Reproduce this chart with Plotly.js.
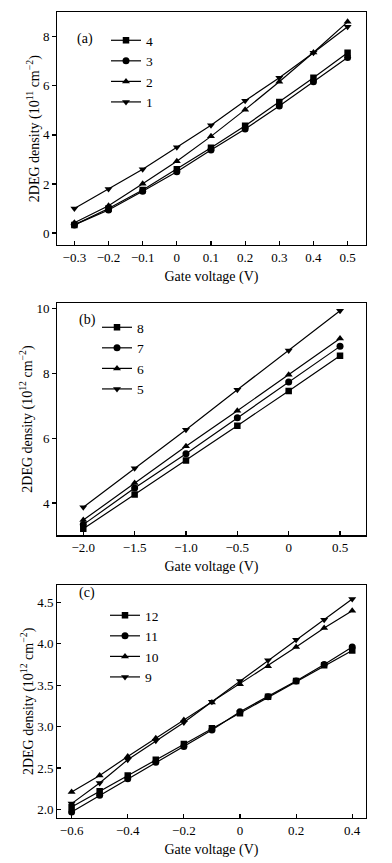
<!DOCTYPE html>
<html><head><meta charset="utf-8">
<script src="https://cdn.plot.ly/plotly-3.0.1.min.js"></script>
<style>html,body{margin:0;padding:0;background:#fff}#chart{width:392px;height:863px}</style>
</head><body><div id="chart"></div>
<script>
// Panel (a)
const xA = [-0.3,-0.2,-0.1,0,0.1,0.2,0.3,0.4,0.5];
const a1 = [1.00,1.79,2.60,3.50,4.39,5.39,6.33,7.35,8.41];
const a2 = [0.42,1.11,2.01,2.93,3.94,5.03,6.17,7.36,8.61];
const a3 = [0.33,0.94,1.70,2.50,3.38,4.24,5.18,6.17,7.16];
const a4 = [0.33,1.00,1.75,2.60,3.48,4.37,5.34,6.33,7.35];
const xTicksA = [-0.3,-0.2,-0.1,0,0.1,0.2,0.3,0.4,0.5];
const xLabelsA = ['\u22120.3','\u22120.2','\u22120.1','0','0.1','0.2','0.3','0.4','0.5'];
const yTicksA = [0,2,4,6,8];

// Panel (b)
const xB = [-2.0,-1.5,-1.0,-0.5,0,0.5];
const b5 = [3.87,5.07,6.26,7.50,8.71,9.94];
const b6 = [3.47,4.62,5.75,6.85,7.96,9.08];
const b7 = [3.33,4.46,5.52,6.63,7.74,8.84];
const b8 = [3.20,4.26,5.31,6.39,7.46,8.55];
const xTicksB = [-2.0,-1.5,-1.0,-0.5,0,0.5];
const xLabelsB = ['\u22122.0','\u22121.5','\u22121.0','\u22120.5','0','0.5'];
const yTicksB = [4,6,8,10];

// Panel (c)
const xC = [-0.6,-0.5,-0.4,-0.3,-0.2,-0.1,0,0.1,0.2,0.3,0.4];
const c9  = [2.07,2.32,2.60,2.83,3.05,3.30,3.55,3.80,4.05,4.29,4.54];
const c10 = [2.21,2.41,2.64,2.86,3.08,3.29,3.51,3.73,3.96,4.19,4.40];
const c11 = [1.97,2.17,2.37,2.57,2.76,2.96,3.18,3.36,3.55,3.75,3.96];
const c12 = [2.03,2.22,2.41,2.60,2.79,2.98,3.16,3.36,3.55,3.74,3.92];
const xTicksC = [-0.6,-0.4,-0.2,0,0.2,0.4];
const xLabelsC = ['\u22120.6','\u22120.4','\u22120.2','0','0.2','0.4'];
const yTicksC = [2.0,2.5,3.0,3.5,4.0,4.5];
const yLabelsC = ['2.0','2.5','3.0','3.5','4.0','4.5'];

const FONT = 'Liberation Serif, Times New Roman, serif';
function tr(x, y, name, sym, xa, ya, lg) {
  return {x: x, y: y, name: name, type: 'scatter', mode: 'lines+markers',
    xaxis: xa, yaxis: ya, legend: lg,
    line: {color: '#000', width: 1.2},
    marker: {symbol: sym, size: sym === 'square' ? 6.5 : 7, color: '#000'}};
}
const data = [
  tr(xA, a4, '4', 'square', 'x', 'y', 'legend'),
  tr(xA, a3, '3', 'circle', 'x', 'y', 'legend'),
  tr(xA, a2, '2', 'triangle-up', 'x', 'y', 'legend'),
  tr(xA, a1, '1', 'triangle-down', 'x', 'y', 'legend'),
  tr(xB, b8, '8', 'square', 'x2', 'y2', 'legend2'),
  tr(xB, b7, '7', 'circle', 'x2', 'y2', 'legend2'),
  tr(xB, b6, '6', 'triangle-up', 'x2', 'y2', 'legend2'),
  tr(xB, b5, '5', 'triangle-down', 'x2', 'y2', 'legend2'),
  tr(xC, c12, '12', 'square', 'x3', 'y3', 'legend3'),
  tr(xC, c11, '11', 'circle', 'x3', 'y3', 'legend3'),
  tr(xC, c10, '10', 'triangle-up', 'x3', 'y3', 'legend3'),
  tr(xC, c9, '9', 'triangle-down', 'x3', 'y3', 'legend3')
];
const W = 392, H = 863;
const px = v => v / W, py = v => 1 - v / H;
function xax(range, tv, tt, anchor, title) {
  return {domain: [px(57.3), px(365.7)], range: range, anchor: anchor,
    tickmode: 'array', tickvals: tv, ticktext: tt, ticks: 'inside', ticklen: 4,
    tickwidth: 1.2, tickcolor: '#000', showline: true, mirror: true, linecolor: '#000', linewidth: 1.2,
    showgrid: false, zeroline: false, tickfont: {family: FONT, size: 13, color: '#000'},
    title: {text: title, font: {family: FONT, size: 14, color: '#000'}, standoff: 7}};
}
function yax(range, dom, tv, tt, anchor, title, ticks) {
  return {domain: dom, range: range, anchor: anchor,
    tickmode: 'array', tickvals: tv, ticktext: tt, ticks: ticks, ticklen: 4,
    tickwidth: 1.2, tickcolor: '#000', showline: true, mirror: true, linecolor: '#000', linewidth: 1.2,
    showgrid: false, zeroline: false, tickfont: {family: FONT, size: 13, color: '#000'},
    title: {text: title, font: {family: FONT, size: 14, color: '#000'}, standoff: 0}};
}
function lg(xp, ytop) {
  return {x: px(xp), y: py(ytop), xanchor: 'left', yanchor: 'top', bgcolor: 'rgba(0,0,0,0)',
    font: {family: FONT, size: 13.5, color: '#000'}, tracegroupgap: 0, itemwidth: 30};
}
const layout = {
  width: W, height: H, margin: {l: 0, r: 0, t: 0, b: 0},
  paper_bgcolor: '#fff', plot_bgcolor: '#fff', showlegend: true,
  xaxis: xax([-0.35, 0.553], xTicksA, xLabelsA, 'y', 'Gate voltage (V)'),
  yaxis: yax([-0.49, 9.0], [py(245), py(12.3)], yTicksA, yTicksA.map(String), 'x', '2DEG density (10<sup>11</sup> cm<sup>\u22122</sup>)', 'outside'),
  xaxis2: xax([-2.253, 0.75], xTicksB, xLabelsB, 'y2', 'Gate voltage (V)'),
  yaxis2: yax([3.0, 10.19], [py(535.3), py(302.7)], yTicksB, yTicksB.map(String), 'x2', '2DEG density (10<sup>12</sup> cm<sup>\u22122</sup>)', 'outside'),
  xaxis3: xax([-0.651, 0.448], xTicksC, xLabelsC, 'y3', 'Gate voltage (V)'),
  yaxis3: yax([1.90, 4.71], [py(817.7), py(585)], yTicksC, yLabelsC, 'x3', '2DEG density (10<sup>12</sup> cm<sup>\u22122</sup>)', 'inside'),
  legend: lg(106, 25),
  legend2: lg(97, 312),
  legend3: lg(105, 600),
  annotations: [
    {text: '(a)', x: px(75), y: py(29), xref: 'paper', yref: 'paper', showarrow: false, font: {family: FONT, size: 14, color: '#000'}},
    {text: '(b)', x: px(77), y: py(320), xref: 'paper', yref: 'paper', showarrow: false, font: {family: FONT, size: 14, color: '#000'}},
    {text: '(c)', x: px(77), y: py(603), xref: 'paper', yref: 'paper', showarrow: false, font: {family: FONT, size: 14, color: '#000'}}
  ]
};
Plotly.newPlot('chart', data, layout, {displayModeBar: false, staticPlot: true});
</script></body></html>
